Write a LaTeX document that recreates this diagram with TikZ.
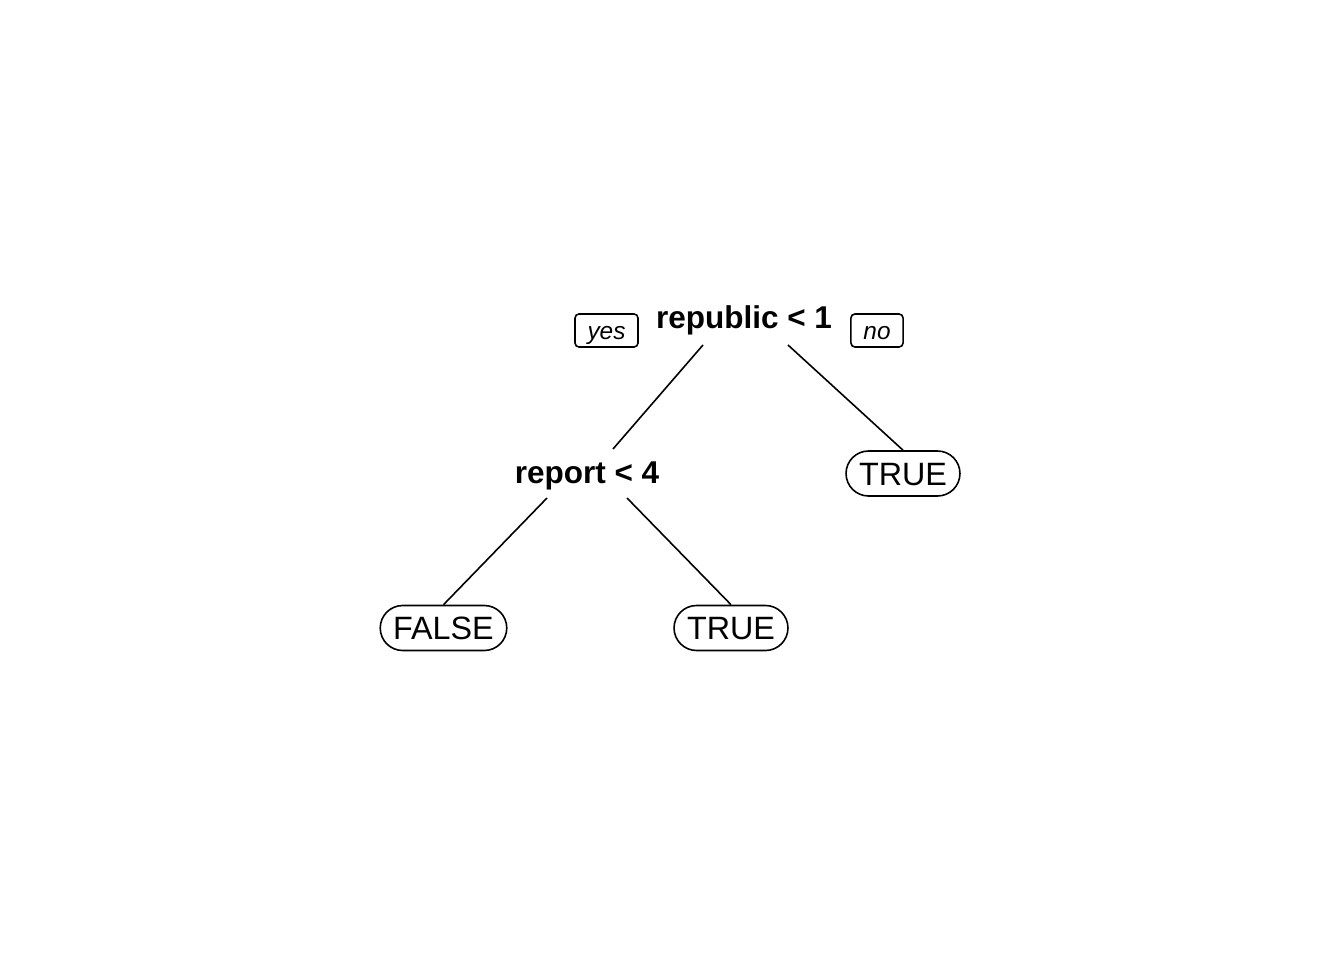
\documentclass[tikz,border=0pt]{standalone}
\usepackage{fontspec}
\setmainfont{Liberation Sans}
\begin{document}
\begin{tikzpicture}[x=1pt,y=-1pt,
  line width=1.6pt,
  split/.style={anchor=base,inner sep=0pt,font=\fontsize{31.5}{36}\selectfont\bfseries},
  leaf/.style={draw,rectangle,rounded corners=22.5pt,minimum height=45pt,
    inner xsep=13pt,inner ysep=0pt,text height=23pt,text depth=0pt,
    font=\fontsize{32.3}{36}\selectfont},
  yn/.style={draw,rectangle,rounded corners=4pt,minimum height=33pt,
    inner xsep=12.5pt,inner ysep=0pt,text height=17.5pt,text depth=0pt,
    font=\fontsize{24.4}{28}\selectfont\itshape}]
\useasboundingbox (0,0) rectangle (1344,960);
\node[split] (root) at (744,328) {republic < 1};
\node[yn] (yes) at (606.5,330.5) {yes};
\node[yn] (no) at (877,330.5) {no};
\node[split] (rep) at (587,483) {report < 4};
\node[leaf] (t1) at (903,473.5) {TRUE};
\node[leaf] (f) at (443.5,628) {FALSE};
\node[leaf] (t2) at (731,628) {TRUE};
\coordinate (rootL) at (703,345);
\coordinate (rootR) at (788,345);
\coordinate (repT) at (613,449);
\coordinate (repL) at (547,498);
\coordinate (repR) at (627,498);
\draw (rootL) -- (repT);
\draw (rootR) -- (t1.north);
\draw (repL) -- (f.north);
\draw (repR) -- (t2.north);
\end{tikzpicture}
\end{document}
